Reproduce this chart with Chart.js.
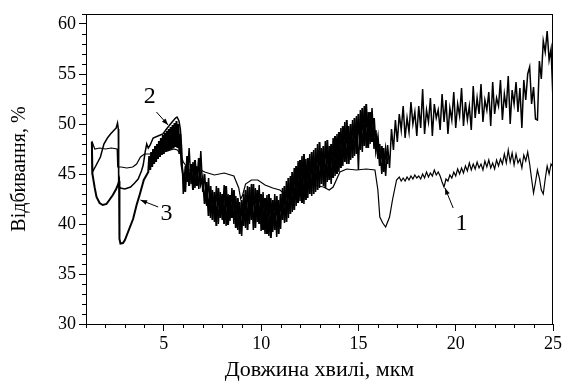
<!DOCTYPE html>
<html>
<head>
<meta charset="utf-8">
<script src="https://cdn.jsdelivr.net/npm/chart.js@4.4.1/dist/chart.umd.min.js"></script>
<style>
  html, body { margin: 0; padding: 0; background: #fff; }
  #wrap { width: 565px; height: 383px; }
</style>
</head>
<body>
<div id="wrap"><canvas id="spectra" width="565" height="383"></canvas></div>
<script>
// ===== Data (wavelength, µm / reflectance, %) =====
const wl1 = [1.3, 1.45, 1.7, 2.0, 2.3, 2.6, 2.63, 2.8, 3.1, 3.4, 3.6, 3.8, 4.0, 4.3, 4.8, 5.2, 5.5, 5.7, 5.85, 6.0,
  6.3, 6.8, 7.1, 7.6, 8.1, 8.6, 8.85, 8.95, 9.05, 9.2, 9.5, 9.83, 10.2, 10.6, 10.96, 11.3, 11.8, 12.35, 12.7, 13.2,
  13.5, 13.7, 14.05, 14.4, 14.9, 15.4, 15.85, 16.0, 16.1, 16.25, 16.4, 16.6, 16.75, 16.96,
  17.1, 17.2, 17.3, 17.4, 17.5, 17.6, 17.7, 17.8, 17.9, 18.0, 18.1, 18.2, 18.3, 18.4, 18.5, 18.6, 18.7, 18.8, 18.9, 19.0,
  19.1, 19.2, 19.3, 19.4, 19.5, 19.6, 19.7, 19.8, 19.9, 20.0, 20.1, 20.2, 20.3, 20.4, 20.5, 20.6, 20.7, 20.8, 20.9, 21.0,
  21.1, 21.2, 21.3, 21.4, 21.5, 21.6, 21.7, 21.8, 21.9, 22.0, 22.1, 22.2, 22.3, 22.4, 22.5, 22.6, 22.7, 22.8, 22.9, 23.0,
  23.1, 23.2, 23.3, 23.4, 23.5, 23.6, 23.7, 23.8, 23.9, 24.0, 24.1, 24.2, 24.3, 24.4, 24.5, 24.6, 24.7, 24.8, 24.9, 25.0];
const r1 = [48.3, 47.5, 47.6, 47.5, 47.6, 47.5, 45.7, 45.7, 45.6, 45.7, 46.0, 46.7, 47.0, 47.0, 47.1, 47.3, 47.5, 47.4, 47.0, 46.2,
  45.4, 45.5, 45.2, 44.9, 45.1, 44.8, 43.6, 42.5, 42.9, 44.0, 44.4, 44.4, 43.9, 43.6, 43.4, 42.9, 43.3, 44.2, 43.9, 43.7,
  43.4, 43.7, 45.2, 45.5, 45.4, 45.5, 45.4, 43.4, 40.7, 40.1, 39.7, 40.7, 42.4, 44.4,
  44.7, 44.3, 44.6, 44.3, 44.7, 44.4, 44.8, 44.5, 44.9, 44.6, 44.8, 44.5, 45.0, 44.6, 45.2, 44.7, 45.1, 44.8, 45.4, 44.9,
  45.2, 44.8, 44.2, 43.7, 44.5, 44.3, 44.9, 44.6, 45.2, 44.8, 45.5, 45.0, 45.6, 45.1, 45.8, 45.3, 46.1, 45.4, 46.0, 45.5,
  46.2, 45.6, 46.0, 45.4, 46.3, 45.7, 46.4, 45.6, 46.1, 45.5, 46.4, 45.8, 46.5, 46.0, 47.0, 46.1, 47.4, 46.2, 47.1, 45.9,
  47.0, 46.1, 46.5, 45.6, 46.9, 46.3, 47.2, 46.0, 44.5, 43.1, 44.2, 45.4, 44.6, 43.4, 43.0, 44.5, 45.8, 45.0, 46.0, 45.7];

const wl2 = [1.3, 1.33, 1.5, 1.74, 1.92, 2.1, 2.26, 2.45, 2.55, 2.62, 2.66, 2.68, 2.77, 3.0, 3.29, 3.5, 3.68, 3.85, 3.94, 4.05,
  4.12, 4.2, 4.3, 4.45, 4.7, 4.95, 5.14, 5.3, 5.47, 5.6, 5.68, 5.78, 5.85, 5.92,
  6.0, 6.1, 6.2, 6.3, 6.4, 6.5, 6.6, 6.7, 6.8, 6.9, 7.0, 7.1, 7.2, 7.3, 7.4, 7.5, 7.6, 7.7, 7.8, 7.9,
  8.0, 8.1, 8.2, 8.3, 8.4, 8.5, 8.6, 8.7, 8.8, 8.9, 9.0, 9.1, 9.2, 9.3, 9.4, 9.5, 9.6, 9.7, 9.8, 9.9,
  10.0, 10.1, 10.2, 10.3, 10.4, 10.5, 10.6, 10.7, 10.8, 10.9, 11.0, 11.1, 11.2, 11.3, 11.4, 11.5, 11.6, 11.7, 11.8, 11.9,
  12.0, 12.1, 12.2, 12.3, 12.4, 12.5, 12.6, 12.7, 12.8, 12.9, 13.0, 13.1, 13.2, 13.3, 13.4, 13.5, 13.6, 13.7, 13.8, 13.9,
  14.0, 14.1, 14.2, 14.3, 14.4, 14.5, 14.6, 14.7, 14.8, 14.9, 15.0, 15.1, 15.2, 15.3, 15.4, 15.5, 15.6, 15.7, 15.8, 15.9,
  16.0, 16.1, 16.2, 16.3, 16.4, 16.5, 16.6, 16.7, 16.8, 16.9, 17.0, 17.1, 17.2, 17.3, 17.4, 17.5, 17.6, 17.7, 17.8, 17.9,
  18.0, 18.1, 18.2, 18.3, 18.4, 18.5, 18.6, 18.7, 18.8, 18.9, 19.0, 19.1, 19.2, 19.3, 19.4, 19.5, 19.6, 19.7, 19.8, 19.9,
  20.0, 20.1, 20.2, 20.3, 20.4, 20.5, 20.6, 20.7, 20.8, 20.9, 21.0, 21.1, 21.2, 21.3, 21.4, 21.5, 21.6, 21.7, 21.8, 21.9,
  22.0, 22.1, 22.2, 22.3, 22.4, 22.5, 22.6, 22.7, 22.8, 22.9, 23.0, 23.1, 23.2, 23.3, 23.4, 23.5, 23.6, 23.7, 23.8, 23.9,
  24.0, 24.1, 24.2, 24.3, 24.4, 24.5, 24.6, 24.7, 24.8, 24.9, 25.0];
const r2 = [48.2, 45.2, 45.8, 46.7, 48.0, 48.6, 49.0, 49.4, 49.6, 50.1, 49.5, 43.8, 43.6, 43.5, 43.7, 44.1, 44.5, 45.3, 45.9, 47.3,
  48.0, 47.6, 47.9, 48.6, 48.8, 49.0, 49.5, 49.9, 50.3, 50.6, 50.7, 50.3, 49.5, 47.5,
  43.0, 45.8, 44.2, 47.6, 44.0, 46.2, 43.6, 45.8, 43.5, 47.3, 43.2, 45.0, 41.8, 44.6, 40.6, 43.4, 40.2, 43.8, 40.0, 43.2,
  40.4, 43.9, 39.8, 43.0, 40.3, 43.6, 40.0, 42.8, 39.4, 42.2, 38.8, 43.0, 39.6, 43.8, 40.0, 44.0, 39.4, 43.6, 40.2, 43.9,
  39.3, 43.2, 39.0, 42.9, 38.8, 42.6, 39.2, 43.0, 38.7, 42.4, 39.5, 43.6, 40.1, 44.3, 40.6, 44.8, 41.2, 45.6, 41.8, 46.3,
  42.3, 46.8, 42.0, 46.5, 42.6, 47.0, 42.8, 47.4, 43.2, 48.0, 43.6, 47.6, 43.8, 48.3, 44.2, 47.8, 44.0, 48.6, 44.8, 49.0,
  45.2, 49.6, 45.8, 50.2, 46.0, 49.8, 46.4, 50.4, 46.8, 50.8, 45.4, 51.4, 47.2, 51.8, 47.6, 51.2, 48.0, 51.6, 47.5, 49.4,
  46.5, 48.0, 45.0, 47.6, 44.8, 47.9, 45.6, 49.5, 47.4, 50.4, 48.2, 51.0, 49.4, 51.8, 48.6, 50.6, 49.2, 52.2, 50.0, 51.2,
  48.8, 51.8, 49.6, 53.5, 49.0, 51.4, 50.2, 52.6, 48.8, 52.0, 50.6, 51.4, 49.4, 53.0, 50.2, 52.4, 49.0, 51.6, 50.4, 53.2,
  49.6, 52.0, 50.8, 53.6, 49.8, 52.2, 50.4, 51.8, 49.4, 53.8, 50.6, 52.6, 51.0, 54.0, 50.2, 52.4, 51.4, 53.2, 49.8, 54.2,
  51.0, 52.6, 51.8, 54.4, 50.4, 53.0, 51.6, 54.8, 50.0, 53.4, 52.0, 54.2, 51.2, 53.6, 49.6, 54.4, 52.4, 55.0, 55.7, 52.0,
  53.7, 50.5, 50.4, 56.3, 54.5, 58.3, 57.2, 59.3, 56.4, 57.5, 52.4];

const wl3 = [1.3, 1.33, 1.45, 1.54, 1.7, 1.86, 2.05, 2.2, 2.38, 2.55, 2.64, 2.7, 2.72, 2.77, 2.9, 3.0, 3.2, 3.42, 3.6, 3.77,
  3.97, 4.2, 4.25, 4.3, 4.35, 4.4, 4.45, 4.5, 4.55, 4.6, 4.65, 4.7, 4.75, 4.8, 4.85, 4.9, 4.95, 5.0, 5.05, 5.1,
  5.15, 5.2, 5.25, 5.3, 5.35, 5.4, 5.45, 5.5, 5.55, 5.6, 5.65, 5.7, 5.75, 5.8, 5.85, 5.9,
  6.0, 6.1, 6.2, 6.3, 6.4, 6.5, 6.6, 6.7, 6.8, 6.9, 7.0, 7.1, 7.2, 7.3, 7.4, 7.5, 7.6, 7.7, 7.8, 7.9,
  8.0, 8.1, 8.2, 8.3, 8.4, 8.5, 8.6, 8.7, 8.8, 8.9, 9.0, 9.1, 9.2, 9.3, 9.4, 9.5, 9.6, 9.7, 9.8, 9.9,
  10.0, 10.1, 10.2, 10.3, 10.4, 10.5, 10.6, 10.7, 10.8, 10.9, 11.0, 11.1, 11.2, 11.3, 11.4, 11.5, 11.6, 11.7, 11.8, 11.9,
  12.0, 12.1, 12.2, 12.3, 12.4, 12.5, 12.6, 12.7, 12.8, 12.9, 13.0, 13.1, 13.2, 13.3, 13.4, 13.5, 13.6, 13.7, 13.8, 13.9,
  14.0, 14.1, 14.2, 14.3, 14.4, 14.5, 14.6, 14.7, 14.8, 14.9, 15.0, 15.1, 15.2, 15.3, 15.4, 15.5, 15.6, 15.7, 15.8, 15.9,
  16.0, 16.1, 16.2, 16.3, 16.4, 16.5];
const r3 = [48.2, 45.0, 43.6, 42.7, 42.1, 41.9, 42.0, 42.4, 42.9, 43.5, 43.9, 44.3, 38.5, 38.05, 38.1, 38.4, 39.4, 40.5, 41.9, 43.0,
  44.4, 45.2, 46.8, 45.4, 47.2, 45.7, 47.5, 46.0, 47.8, 46.2, 48.0, 46.5, 48.3, 46.7, 48.6, 46.9, 48.9, 47.0, 49.1, 47.2,
  49.3, 47.3, 49.5, 47.4, 49.7, 47.5, 49.9, 47.6, 50.1, 47.7, 50.3, 47.6, 50.0, 47.0, 49.0, 46.0,
  44.8, 43.2, 46.8, 43.8, 46.0, 43.4, 46.4, 43.8, 46.6, 44.0, 44.6, 42.0, 44.2, 40.8, 43.8, 40.4, 43.2, 39.8, 43.6, 40.6,
  43.0, 40.0, 43.8, 39.9, 42.9, 40.6, 43.4, 39.6, 42.6, 39.0, 42.4, 39.8, 43.4, 39.4, 43.7, 40.4, 44.0, 39.6, 43.4, 40.0,
  43.0, 39.4, 42.6, 39.0, 43.0, 38.6, 42.4, 39.4, 42.8, 39.0, 43.0, 40.4, 43.8, 40.2, 44.6, 41.0, 45.2, 41.4, 45.8, 42.1,
  46.4, 42.1, 47.0, 42.4, 46.6, 43.0, 47.2, 43.0, 47.6, 43.4, 48.2, 44.0, 47.8, 43.6, 48.4, 44.4, 48.0, 44.6, 48.8, 45.0,
  49.2, 45.6, 49.8, 46.2, 50.4, 46.0, 50.0, 46.6, 50.6, 47.0, 51.0, 47.4, 51.6, 47.8, 52.0, 47.6, 51.2, 48.2, 50.6, 47.4,
  48.6, 45.8, 47.8, 45.2, 47.4, 46.0];

// curve labels: [text, label x, label y, arrow tail x, tail y, head x, head y] in data units
const curveLabels = [
  ["1", 20.3, 40.0, 19.87, 41.6, 19.45, 43.6],
  ["2", 4.28, 52.7, 4.62, 51.2, 5.22, 49.9],
  ["3", 5.14, 41.0, 4.71, 41.7, 3.8, 42.4],
];

const FONT = "'Liberation Serif', 'Times New Roman', serif";
const pts = (xs, ys) => xs.map((x, i) => ({ x: x, y: ys[i] }));

const framePlugin = {
  id: "frame",
  afterDraw(chart) {
    const { ctx, chartArea: a, scales } = chart;
    ctx.save();
    ctx.strokeStyle = "#000";
    ctx.lineWidth = 1;
    ctx.strokeRect(a.left + 0.5, a.top + 0.5, a.right - a.left - 1, a.bottom - a.top);

    // minor ticks (every 1 unit), shorter than the major ones
    ctx.beginPath();
    scales.x.ticks.forEach((t) => {
      if (t.value % 5 === 0) return;
      const px = Math.round(scales.x.getPixelForValue(t.value)) + 0.5;
      ctx.moveTo(px, a.bottom);
      ctx.lineTo(px, a.bottom + 4);
    });
    scales.y.ticks.forEach((t) => {
      if (t.value % 5 === 0) return;
      const py = Math.round(scales.y.getPixelForValue(t.value)) + 0.5;
      ctx.moveTo(a.left, py);
      ctx.lineTo(a.left - 4, py);
    });
    ctx.stroke();

    // curve numbers with arrows
    ctx.fillStyle = "#000";
    ctx.font = "24px " + FONT;
    ctx.textAlign = "center";
    ctx.textBaseline = "middle";
    curveLabels.forEach(([txt, lx, ly, tx, ty, hx, hy]) => {
      const X = (v) => scales.x.getPixelForValue(v);
      const Y = (v) => scales.y.getPixelForValue(v);
      ctx.fillText(txt, X(lx), Y(ly));
      const x0 = X(tx), y0 = Y(ty), x1 = X(hx), y1 = Y(hy);
      ctx.beginPath();
      ctx.moveTo(x0, y0);
      ctx.lineTo(x1, y1);
      ctx.lineWidth = 1;
      ctx.stroke();
      const ang = Math.atan2(y1 - y0, x1 - x0);
      ctx.beginPath();
      ctx.moveTo(x1, y1);
      ctx.lineTo(x1 - 7 * Math.cos(ang - 0.35), y1 - 7 * Math.sin(ang - 0.35));
      ctx.lineTo(x1 - 7 * Math.cos(ang + 0.35), y1 - 7 * Math.sin(ang + 0.35));
      ctx.closePath();
      ctx.fill();
    });
    ctx.restore();
  },
};

const line = (data, width) => ({
  data: data,
  showLine: true,
  borderColor: "#000",
  borderWidth: width,
  pointRadius: 0,
  tension: 0,
  fill: false,
});

new Chart(document.getElementById("spectra"), {
  type: "scatter",
  data: {
    datasets: [
      line(pts(wl1, r1), 1.2),
      line(pts(wl2, r2), 1.5),
      line(pts(wl3, r3), 2.0),
    ],
  },
  options: {
    responsive: false,
    animation: false,
    layout: { padding: { left: 8, right: 12, top: 14, bottom: 0 } },
    plugins: { legend: { display: false }, tooltip: { enabled: false } },
    scales: {
      x: {
        type: "linear",
        min: 1,
        max: 25,
        ticks: {
          stepSize: 1,
          autoSkip: false,
          maxRotation: 0,
          color: "#000",
          font: { family: FONT, size: 18 },
          padding: 2,
          callback: (v) => (v % 5 === 0 ? v : ""),
        },
        grid: {
          drawOnChartArea: false,
          tickLength: 7,
          tickColor: (c) => (c.tick && c.tick.value % 5 === 0 ? "#000" : "rgba(0,0,0,0)"),
        },
        border: { color: "#000", width: 1 },
        title: {
          display: true,
          text: "Довжина хвилі, мкм",
          color: "#000",
          font: { family: FONT, size: 22 },
          padding: { top: 2, bottom: 0 },
        },
        afterFit: (s) => { s.height = 59; },
      },
      y: {
        min: 30,
        max: 61,
        ticks: {
          stepSize: 1,
          autoSkip: false,
          color: "#000",
          font: { family: FONT, size: 18 },
          padding: 3,
          callback: (v) => (v % 5 === 0 ? v : ""),
        },
        grid: {
          drawOnChartArea: false,
          tickLength: 7,
          tickColor: (c) => (c.tick && c.tick.value % 5 === 0 ? "#000" : "rgba(0,0,0,0)"),
        },
        border: { color: "#000", width: 1 },
        title: {
          display: true,
          text: "Відбивання, %",
          color: "#000",
          font: { family: FONT, size: 20 },
          padding: { top: 0, bottom: 4 },
        },
        afterFit: (s) => { s.width = 78; },
      },
    },
  },
  plugins: [framePlugin],
});
</script>
</body>
</html>
